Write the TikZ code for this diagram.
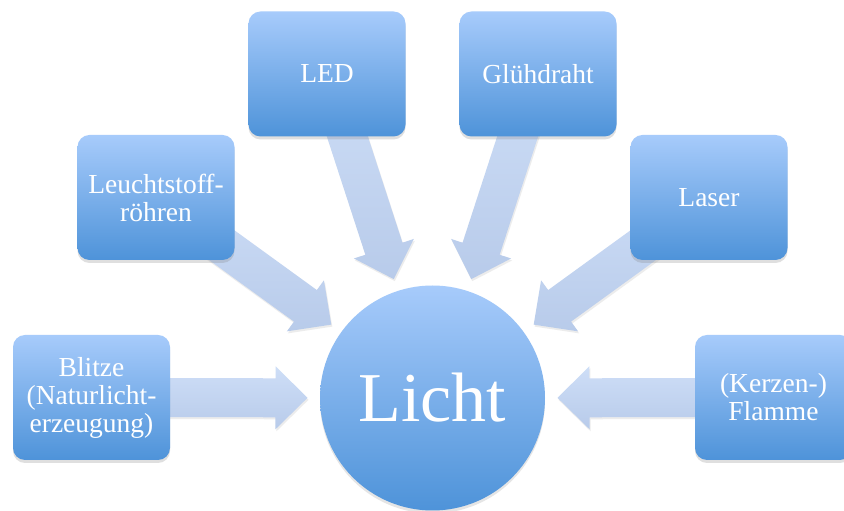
\documentclass[tikz,border=0pt]{standalone}
\usepackage{fontspec}
\setmainfont{Liberation Serif}
\usetikzlibrary{calc,shadows}
\definecolor{boxtop}{RGB}{167,203,251}
\definecolor{boxbot}{RGB}{78,147,217}
\definecolor{arrtop}{RGB}{206,222,247}
\definecolor{arrbot}{RGB}{184,203,234}
\tikzset{
  srcbox/.style={rectangle, rounded corners=12pt, minimum width=157pt, minimum height=125pt,
    inner sep=0pt, top color=boxtop, bottom color=boxbot, draw=none, text=white, align=center,
    font=\fontsize{27.5}{28}\selectfont,
    drop shadow={opacity=0.25, shadow xshift=0pt, shadow yshift=-3pt}},
  hub/.style={circle, minimum size=225pt, inner sep=0pt, top color=boxtop, bottom color=boxbot,
    draw=none, text=white, font=\fontsize{70}{72}\selectfont,
    drop shadow={opacity=0.2, shadow xshift=0pt, shadow yshift=-3pt}},
  blockarr/.style={top color=arrtop, bottom color=arrbot, draw=none,
    drop shadow={opacity=0.15, shadow xshift=1pt, shadow yshift=-2pt}}
}
\newcommand{\blockarrow}[2]{%
  \coordinate (H) at ($(#1)!157pt!(#2)$);
  \coordinate (T) at ($(#1)!125pt!(#2)$);
  \path[blockarr] ($(#2)!19.5pt!90:(#1)$) -- ($(H)!19.5pt!90:(#1)$) -- ($(H)!31.5pt!90:(#1)$)
    -- (T) -- ($(H)!31.5pt!-90:(#1)$) -- ($(H)!19.5pt!-90:(#1)$) -- ($(#2)!19.5pt!-90:(#1)$) -- cycle;
}
\begin{document}
\begin{tikzpicture}[x=1pt,y=1pt]
\useasboundingbox (0,0) rectangle (844,511);
\fill[white] (0,0) rectangle (844,511);
\clip (0,0) rectangle (844,511);
% node positions
\coordinate (pBl) at (91.5,113.5);
\coordinate (pLe) at (156,313.5);
\coordinate (pLED) at (327,437);
\coordinate (pGl) at (538,437);
\coordinate (pLa) at (709,313.5);
\coordinate (pFl) at (773.5,113.5);
\coordinate (pLi) at (432.5,113);
% arrows (behind boxes)
\blockarrow{pLi}{pBl}
\blockarrow{pLi}{pLe}
\blockarrow{pLi}{pLED}
\blockarrow{pLi}{pGl}
\blockarrow{pLi}{pLa}
\blockarrow{pLi}{pFl}
% boxes
\node[srcbox] (blitze) at (pBl) {Blitze\\(Naturlicht-\\erzeugung)};
\node[srcbox] (leucht) at (pLe) {Leuchtstoff-\\röhren};
\node[srcbox] (led) at (pLED) {LED};
\node[srcbox] (gluh) at (pGl) {Glühdraht};
\node[srcbox] (laser) at (pLa) {Laser};
\node[srcbox] (flamme) at (pFl) {(Kerzen-)\\Flamme};
\node[hub] (licht) at (pLi) {Licht};
\end{tikzpicture}
\end{document}
